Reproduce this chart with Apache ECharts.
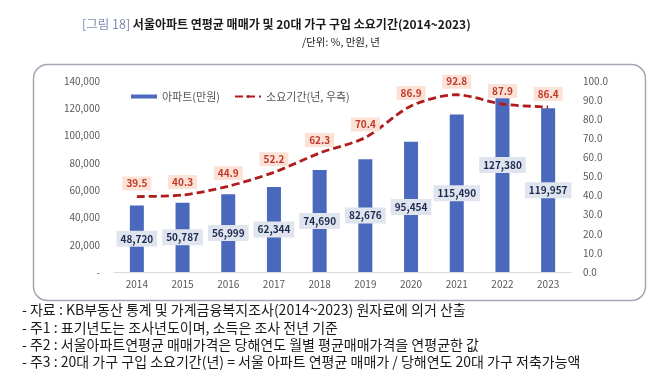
<!DOCTYPE html>
<html>
<head>
<meta charset="utf-8">
<script src="https://cdn.jsdelivr.net/npm/echarts@6/dist/echarts.min.js"></script>
<style>
  html, body { margin: 0; padding: 0; background: #fff; }
  #chart { width: 658px; height: 376px; }
</style>
</head>
<body>
<div id="chart"></div>
<script>
var years = ['2014', '2015', '2016', '2017', '2018', '2019', '2020', '2021', '2022', '2023'];
var prices = [48720, 50787, 56999, 62344, 74690, 82676, 95454, 115490, 127380, 119957];
var periods = [39.5, 40.3, 44.9, 52.2, 62.3, 70.4, 86.9, 92.8, 87.9, 86.4];
var notes = [
  '- 자료 : KB부동산 통계 및 가계금융복지조사(2014~2023) 원자료에 의거 산출',
  '- 주1 : 표기년도는 조사년도이며, 소득은 조사 전년 기준',
  '- 주2 : 서울아파트연평균 매매가격은 당해연도 월별 평균매매가격을 연평균한 값',
  '- 주3 : 20대 가구 구입 소요기간(년) = 서울 아파트 연평균 매매가 / 당해연도 20대 가구 저축가능액'
];

var font = '"Noto Sans CJK KR", "Noto Sans", sans-serif';
var chart = echarts.init(document.getElementById('chart'));

// bar data, the 2022 label is lifted so it clears the line
var barData = prices.map(function (v, i) {
  var item = { value: v };
  if (years[i] === '2022') item.label = { offset: [0, -20] };
  return item;
});

var noteGraphics = notes.map(function (t, i) {
  return {
    type: 'text', left: 22, top: 303 + i * 17.3,
    style: { text: t, font: '14px ' + font, fill: '#1a1a1a' }
  };
});

option = {
  textStyle: { fontFamily: font },
  title: {
    text: '{a|[그림 18]} 서울아파트 연평균 매매가 및 20대 가구 구입 소요기간(2014~2023)',
    left: 77, top: 13,
    textStyle: {
      fontSize: 12, fontWeight: 'bold', color: '#1a1a1a', fontFamily: font,
      rich: { a: { fontSize: 12.5, fontWeight: 'normal', color: '#7d8bb0', fontFamily: font } }
    }
  },
  legend: {
    data: [
      { name: '아파트(만원)', icon: 'rect', itemStyle: { color: '#4a69bd' } },
      { name: '소요기간(년, 우측)' }
    ],
    left: 126, top: 86,
    itemWidth: 26, itemHeight: 4, itemGap: 14,
    textStyle: { fontSize: 11, color: '#555', fontFamily: font }
  },
  grid: { left: 114, right: 87, top: 81, bottom: 104 },
  xAxis: {
    type: 'category',
    data: years,
    axisTick: { show: false },
    axisLine: { lineStyle: { color: '#d9d9d9' } },
    axisLabel: { color: '#595959', fontSize: 10, margin: 7 }
  },
  yAxis: [
    {
      type: 'value', min: 0, max: 140000, interval: 20000,
      splitLine: { show: false },
      axisLabel: {
        color: '#595959', fontSize: 10, margin: 14,
        formatter: function (v) { return v === 0 ? '-' : v.toLocaleString('en-US'); }
      }
    },
    {
      type: 'value', min: 0, max: 100, interval: 10,
      splitLine: { show: false },
      axisLabel: {
        color: '#595959', fontSize: 10, margin: 12,
        formatter: function (v) { return v.toFixed(1); }
      }
    }
  ],
  series: [
    {
      name: '아파트(만원)',
      type: 'bar',
      data: barData,
      barWidth: 14,
      itemStyle: { color: '#4a69bd' },
      label: {
        show: true, position: 'inside',
        formatter: function (p) { return p.value.toLocaleString('en-US'); },
        color: '#1c2a4d', fontSize: 10, fontWeight: 'bold',
        backgroundColor: '#dfe4ef', padding: [3, 4]
      }
    },
    {
      name: '소요기간(년, 우측)',
      type: 'line',
      yAxisIndex: 1,
      data: periods,
      smooth: 0.3,
      symbol: 'circle',
      symbolSize: 0.1,
      showSymbol: true,
      lineStyle: { color: '#b01c1c', width: 2.8, type: [8, 4] },
      itemStyle: { color: '#b01c1c' },
      label: {
        show: true, position: 'top', distance: 6,
        formatter: function (p) { return p.value.toFixed(1); },
        color: '#c0392b', fontSize: 10, fontWeight: 'bold',
        backgroundColor: '#fbe1d6', padding: [2, 4]
      },
      z: 5
    }
  ],
  graphic: [
    {
      type: 'rect', left: 31, top: 62,
      shape: { width: 612, height: 236, r: 14 },
      style: { fill: 'none', stroke: '#a4a8b4', lineWidth: 1.5 },
      z: -1
    },
    {
      type: 'text', left: 302, top: 37,
      style: { text: '/단위: %, 만원, 년', font: '10.5px ' + font, fill: '#222' }
    }
  ].concat(noteGraphics)
};

chart.setOption(option);
</script>
</body>
</html>
